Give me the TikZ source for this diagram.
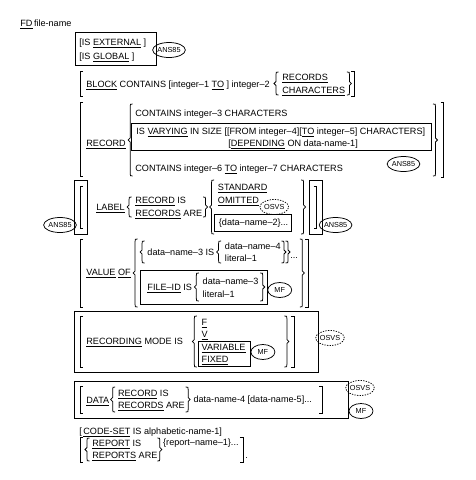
\documentclass[tikz,border=0pt]{standalone}
\usepackage{fontspec}
\setmainfont{Liberation Sans}
\usetikzlibrary{shapes.geometric,calc}
\newcommand{\ulx}[1]{\setbox0=\hbox{#1}\rlap{\rule[-1.8pt]{\wd0}{0.6pt}}\box0\relax}
% brackets and braces: #1 reference point, #2 x offset, #3 top, #4 bottom (image y)
\newcommand{\LBKt}[4]{\draw let \p1=(#1) in ({\x1+#2+3},-#3) -- ({\x1+#2},-#3) -- ({\x1+#2},-#4) -- ({\x1+#2+3},-#4);}
\newcommand{\RBKt}[4]{\draw let \p1=(#1) in ({\x1+#2-3},-#3) -- ({\x1+#2},-#3) -- ({\x1+#2},-#4) -- ({\x1+#2-3},-#4);}
\newcommand{\LBRc}[4]{\draw let \p1=(#1) in
  ({\x1+#2+2.5},-#3) .. controls ({\x1+#2},-#3) .. ({\x1+#2},{-#3-2.5})
  -- ({\x1+#2},{-(#3+#4)/2+2}) -- ({\x1+#2-2},{-(#3+#4)/2}) -- ({\x1+#2},{-(#3+#4)/2-2})
  -- ({\x1+#2},{-#4+2.5}) .. controls ({\x1+#2},-#4) .. ({\x1+#2+2.5},-#4);}
\newcommand{\RBRc}[4]{\draw let \p1=(#1) in
  ({\x1+#2-2.5},-#3) .. controls ({\x1+#2},-#3) .. ({\x1+#2},{-#3-2.5})
  -- ({\x1+#2},{-(#3+#4)/2+2}) -- ({\x1+#2+2},{-(#3+#4)/2}) -- ({\x1+#2},{-(#3+#4)/2-2})
  -- ({\x1+#2},{-#4+2.5}) .. controls ({\x1+#2},-#4) .. ({\x1+#2-2.5},-#4);}
\tikzset{
  txt/.style={anchor=base west, inner sep=0pt, font=\fontsize{9.1}{11}\selectfont},
  tag/.style={ellipse, draw, inner sep=0pt, minimum width=24pt, minimum height=15pt,
    font=\fontsize{7.3}{7.3}\selectfont},
  dtag/.style={tag, dash pattern=on 1.3pt off 1.3pt},
}
\begin{document}
\begin{tikzpicture}[x=1pt,y=1pt,line width=0.75pt]
\useasboundingbox (0,0) rectangle (475,-480);
% FD
\node[txt] (fd) at (20,-26.5) {\ulx{FD}\,file-name};
% IS EXTERNAL / GLOBAL
\node[txt] (ext) at (79,-45.5) {[IS \ulx{EXTERNAL} ]};
\node[txt] (glb) at (79,-59.5) {[IS \ulx{GLOBAL} ]};
\draw (75,-32) rectangle (156,-65);
\node[tag] (a1) at (169,-50) {ANS85};
% BLOCK
\LBKt{0,0}{80}{71}{96}
\node[txt] (blk) at (86,-87.3) {\ulx{BLOCK} CONTAINS [integer–1 \ulx{TO} ] integer–2};
\LBRc{blk.east}{6}{72}{95}
\node[txt, xshift=12pt] (bR) at (blk.east |- 0,-80.3) {\ulx{RECORDS}};
\node[txt] (bC) at (bR.base west |- 0,-93.3) {\ulx{CHARACTERS}};
\RBRc{bC.east}{4}{72}{95}
\RBKt{bC.east}{9}{71}{96}
% RECORD
\LBKt{0,0}{80}{102}{176}
\node[txt] (rec) at (86,-146.3) {\ulx{RECORD}};
\LBRc{rec.east}{4}{104}{176}
\node[txt] (c3) at (135,-116.3) {CONTAINS integer–3 CHARACTERS};
\node[txt] (vry) at (136,-134.3) {IS \ulx{VARYING} IN SIZE [[FROM integer–4][\ulx{TO} integer–5] CHARACTERS]};
\node[txt] (dep) at (228,-146.3) {[\ulx{DEPENDING} ON data-name-1]};
\draw let \p1=(vry.east) in (131,-123) rectangle ({\x1+6},-150);
\node[txt] (c6) at (135,-171.3) {CONTAINS integer–6 \ulx{TO} integer–7 CHARACTERS};
\node[tag, xshift=-22pt] (a2) at (vry.east |- 0,-164) {ANS85};
\RBRc{vry.east}{10}{104}{176}
\RBKt{vry.east}{18}{102}{177}
% LABEL
\draw (74,-180) rectangle (87,-234);
\LBKt{0,0}{80}{186}{228}
\node[tag] (a3) at (60,-225) {ANS85};
\node[txt] (lab) at (96,-210.3) {\ulx{LABEL}};
\LBRc{lab.east}{4}{197}{217}
\node[txt, xshift=10pt] (lri) at (lab.east |- 0,-203.3) {\ulx{RECORD} IS};
\node[txt] (lra) at (lri.base west |- 0,-216.3) {\ulx{RECORDS} ARE};
\RBRc{lra.east}{3}{197}{217}
\LBRc{lra.east}{9}{180}{234}
\node[txt, xshift=15pt] (std) at (lra.east |- 0,-190.3) {\ulx{STANDARD}};
\node[txt] (omt) at (std.base west |- 0,-203.3) {\ulx{OMITTED}};
\node[dtag, xshift=15pt] (o1) at (omt.east |- 0,-207) {OSVS};
\node[txt, xshift=1pt] (dn2) at (std.base west |- 0,-225.3) {\{data–name–2\}...};
\draw let \p1=(dn2.west), \p2=(dn2.east) in ({\x1-4},-214) rectangle ({\x2+3},-231);
\RBRc{std.base west}{86}{180}{234}
\draw let \p1=(std.base west) in ({\x1+92},-180) rectangle ({\x1+105},-234);
\RBKt{std.base west}{99}{186}{228}
\node[tag, xshift=118pt] (a4) at (std.base west |- 0,-225) {ANS85};
% VALUE
\LBKt{0,0}{80}{239}{307}
\node[txt] (val) at (86,-275.3) {\ulx{VALUE} \ulx{OF}};
\LBRc{val.east}{4}{239}{307}
\LBRc{val.east}{11}{241}{263}
\node[txt, xshift=16pt] (dn3) at (val.east |- 0,-255.3) {data–name–3 IS};
\LBRc{dn3.east}{4}{241}{263}
\node[txt, xshift=10pt] (dn4) at (dn3.east |- 0,-249.3) {data–name–4};
\node[txt] (lit1) at (dn4.base west |- 0,-261.3) {literal–1};
\RBRc{dn4.east}{3}{241}{263}
\RBRc{dn4.east}{7}{241}{263}
\node[txt, xshift=9pt] (dots) at (dn4.east |- 0,-258.3) {...};
\node[txt, xshift=16pt] (fid) at (val.east |- 0,-290.3) {\ulx{FILE–ID} IS};
\LBRc{fid.east}{4}{273}{301}
\node[txt, xshift=10pt] (dn3b) at (fid.east |- 0,-284.3) {data–name–3};
\node[txt] (lit1b) at (dn3b.base west |- 0,-297.3) {literal–1};
\RBRc{dn3b.east}{4}{273}{301}
\draw let \p1=(val.east), \p2=(dn3b.east) in ({\x1+9},-270) rectangle ({\x2+9},-304);
\node[tag, xshift=21pt] (mf1) at (dn3b.east |- 0,-290) {MF};
\RBRc{dots.east}{4}{239}{307}
\RBKt{dots.east}{10}{239}{307}
% RECORDING
\draw (74,-311) rectangle (318,-372);
\LBKt{0,0}{80}{316}{367}
\node[txt] (rcm) at (86,-344.3) {\ulx{RECORDING} MODE IS};
\LBRc{rcm.east}{11}{316}{367}
\node[txt, xshift=18pt] (fF) at (rcm.east |- 0,-325.3) {\ulx{F}};
\node[txt] (fV) at (fF.base west |- 0,-337.3) {\ulx{V}};
\node[txt] (fVar) at (fF.base west |- 0,-350.3) {\ulx{VARIABLE}};
\node[txt] (fFix) at (fF.base west |- 0,-362.3) {\ulx{FIXED}};
\draw let \p1=(fF.west), \p2=(fVar.east) in ({\x1-3},-341) rectangle ({\x2+4},-366);
\node[tag, xshift=17pt] (mf2) at (fVar.east |- 0,-352) {MF};
\RBRc{fVar.east}{41}{316}{367}
\RBKt{fVar.east}{48}{316}{367}
\node[dtag] (o2) at (330,-338) {OSVS};
% DATA
\draw (74,-381) rectangle (348,-418);
\LBKt{0,0}{80}{386}{413}
\node[txt] (dat) at (86,-403.3) {\ulx{DATA}};
\LBRc{dat.east}{3}{387}{412}
\node[txt, xshift=8pt] (dri) at (dat.east |- 0,-396.3) {\ulx{RECORD} IS};
\node[txt] (dra) at (dri.base west |- 0,-408.3) {\ulx{RECORDS} ARE};
\RBRc{dra.east}{3}{387}{412}
\node[txt, xshift=8pt] (dn45) at (dra.east |- 0,-402.3) {data-name-4 [data-name-5]...};
\RBKt{dn45.east}{10}{386}{413}
\node[dtag] (o3) at (360,-388) {OSVS};
\node[tag] (mf3) at (361,-411) {MF};
% CODE-SET
\node[txt] (cs) at (79,-434.3) {[\,\ulx{CODE-SET} IS alphabetic-name-1]};
% REPORT
\LBKt{0,0}{80}{437}{462}
\LBRc{0,0}{87}{438}{461}
\node[txt] (rpi) at (92,-446.3) {\ulx{REPORT} IS};
\node[txt] (rpa) at (rpi.base west |- 0,-458.3) {\ulx{REPORTS} ARE};
\RBRc{rpa.east}{2}{438}{461}
\node[txt, xshift=5pt] (rpn) at (rpa.east |- 0,-445.3) {\{report–name–1\}...};
\RBKt{rpn.east}{4}{437}{462}
\node[txt, xshift=6pt] (dot) at (rpn.east |- 0,-458.3) {.};
\end{tikzpicture}
\end{document}
